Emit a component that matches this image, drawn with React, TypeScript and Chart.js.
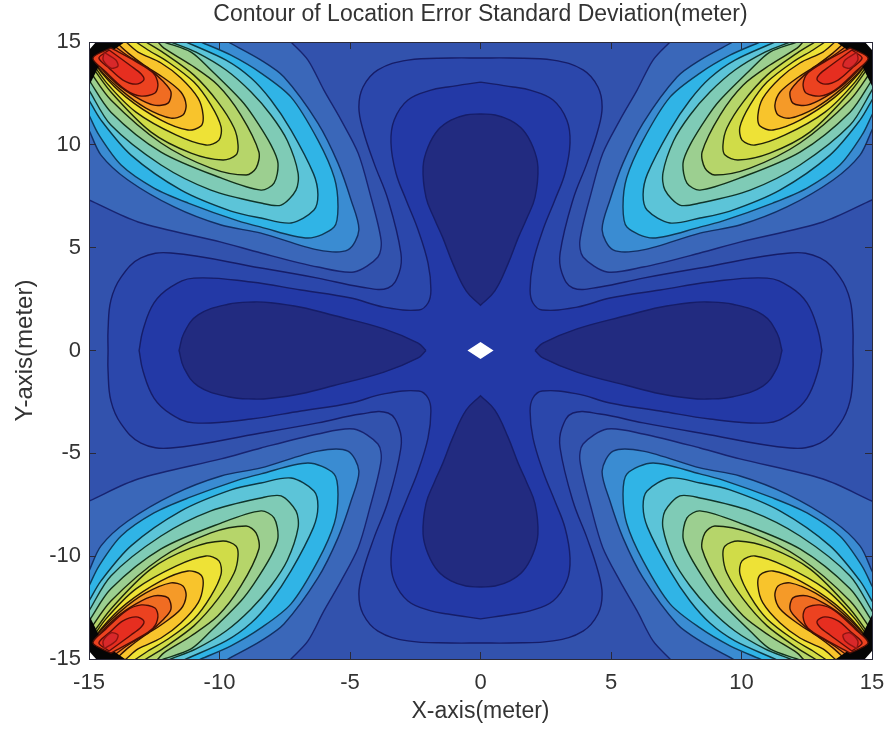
import React, { useEffect, useRef } from "react";
import { Chart, registerables } from "chart.js";

Chart.register(...registerables);

type Pt = [number, number];

const titleText = "Contour of Location Error Standard Deviation(meter)";
const xAxisLabel = "X-axis(meter)";
const yAxisLabel = "Y-axis(meter)";
const axisMin = -15;
const axisMax = 15;
const tickStep = 5;

// Contours read from the upper right quadrant (the surface is mirrored in x and y).
const petalVertical: Pt[] = [[0, 11.5], [0.56, 11.45], [1.13, 11.2], [1.63, 10.72], [2.01, 9.89], [2.2, 8.92], [2.09, 7.46], [1.78, 6.44], [1.45, 5.5], [1.05, 4.2], [0.55, 2.9], [0, 2.2]];
const petalHorizontal: Pt[] = [[2.09, 0], [2.39, 0.36], [3.7, 1.05], [5.61, 1.7], [6.88, 2.1], [8.03, 2.32], [8.68, 2.36], [9.67, 2.25], [10.82, 1.73], [11.36, 0.85], [11.55, 0]];
const crossInner: Pt[] = [[0, 13.05], [1.25, 12.81], [1.9, 12.66], [2.78, 12.18], [3.31, 11.2], [3.43, 10.09], [3.24, 8.63], [2.85, 7.32], [2.39, 5.86], [2.01, 4.25], [1.9, 2.94], [2.01, 2.31], [2.36, 1.97], [3.7, 2.11], [4.96, 2.55], [6.88, 2.94], [8.79, 3.33], [10.98, 3.52], [11.86, 3.09], [12.51, 2.31], [12.93, 1.0], [13.08, 0]];
const crossOuter: Pt[] = [[0, 14.22], [1.13, 14.22], [2.78, 14.12], [3.93, 13.64], [4.5, 12.81], [4.66, 11.84], [4.5, 10.72], [4.08, 9.11], [3.54, 7.32], [3.05, 4.74], [3.12, 3.77], [3.54, 3.04], [4.58, 3.09], [6.23, 3.52], [8.41, 4.01], [11.86, 4.74], [13.01, 4.5], [13.77, 3.57], [14.16, 2.45], [14.27, 1.0], [14.27, 0]];

const lobe3: Pt[] = [[7.26, 15], [6.61, 14.12], [6.0, 12.66], [5.34, 11.2], [4.69, 9.6], [4.27, 7.8], [3.81, 5.37], [3.93, 4.55], [4.85, 3.82], [6.23, 4.06], [8.41, 4.74], [9.94, 5.27], [13.12, 6.25], [15, 7.32]];
const lobe4: Pt[] = [[9.67, 15], [8.41, 14.12], [7.53, 13.3], [6.23, 11.06], [5.46, 9.11], [4.96, 7.32], [4.66, 5.86], [5.08, 4.89], [6.23, 4.89], [8.41, 5.71], [9.94, 6.1], [11.74, 6.98], [13.51, 8.29], [14.54, 9.5], [15, 10.72]];
const lobe5: Pt[] = [[10.71, 15], [9.56, 14.36], [8.41, 13.49], [7.26, 12.32], [6.23, 10.23], [5.6, 8.4], [5.46, 6.98], [5.61, 6.0], [6.61, 5.47], [8.41, 6.0], [9.29, 6.3], [11.2, 7.17], [12.51, 7.9], [13.77, 9.02], [14.62, 10.48], [15, 11.45]];
const lobe6: Pt[] = [[11.28, 15], [9.75, 14.12], [8.79, 13.25], [8.03, 12.18], [7.26, 10.72], [6.4, 8.6], [6.23, 7.6], [6.38, 6.83], [7.26, 6.2], [8.41, 6.44], [9.56, 6.78], [11.47, 7.8], [13.39, 9.5], [14.54, 11.2], [15, 12.18]];
const lobe7: Pt[] = [[11.86, 15], [10.9, 14.51], [9.75, 13.64], [8.79, 12.57], [8.03, 11.45], [7.4, 10.2], [6.99, 8.63], [7.07, 7.8], [7.64, 7.07], [8.41, 7.17], [10.33, 7.8], [12.24, 9.02], [14.16, 10.96], [15, 12.66]];
const lobe8: Pt[] = [[12.13, 15], [11.09, 14.51], [10.33, 13.64], [9.18, 12.18], [8.69, 11.36], [8.03, 10.0], [7.76, 9.11], [7.91, 8.14], [8.41, 7.8], [9.94, 8.39], [12.24, 9.65], [14.16, 11.59], [15, 13.15]];
const lobe9: Pt[] = [[12.36, 15], [12.13, 14.7], [11.09, 13.88], [10.06, 12.9], [9.18, 11.45], [8.49, 9.65], [8.6, 8.87], [8.98, 8.53], [10.33, 8.87], [12.24, 10.09], [14.16, 12.18], [15, 13.64]];
const lobe10: Pt[] = [[12.82, 15], [12.13, 14.46], [10.98, 13.39], [10.06, 12.08], [9.44, 10.82], [9.29, 9.99], [9.37, 9.5], [9.87, 9.26], [11.09, 9.6], [12.62, 10.62], [14.16, 12.57], [15, 14.03]];
const lobe11: Pt[] = [[13.2, 15], [12.74, 14.61], [11.97, 14.03], [10.98, 13.05], [10.33, 11.94], [9.94, 10.87], [10.02, 10.23], [10.52, 9.99], [11.67, 10.48], [13.2, 11.59], [14.35, 13.05], [15, 14.22]];
const lobe12: Pt[] = [[13.58, 15], [13.12, 14.51], [12.24, 13.98], [11.48, 13.25], [10.82, 12.27], [10.63, 11.45], [10.71, 10.91], [11.21, 10.72], [12.24, 11.2], [13.58, 12.32], [14.54, 13.54], [15, 14.46]];
const lobe13: Pt[] = [[13.97, 15], [13.5, 14.46], [12.89, 13.88], [12.13, 13.25], [11.48, 12.57], [11.28, 11.93], [11.4, 11.45], [11.86, 11.3], [12.82, 11.79], [13.77, 12.66], [14.62, 13.73], [15, 14.66]];
const lobe14: Pt[] = [[14.23, 15], [13.5, 14.32], [12.74, 13.73], [12.13, 13.05], [11.86, 12.57], [11.97, 12.03], [12.51, 11.93], [13.2, 12.32], [13.97, 13.0], [14.73, 14.03], [15, 14.8]];
const cornerDense: Pt[] = [[13.62, 15], [14.08, 14.6], [14.54, 14.5], [14.62, 13.83], [15, 12.86], [15, 15]];
const lobe15: Pt[] = [[14.16, 14.71], [13.2, 14.05], [12.55, 13.5], [12.36, 12.95], [12.47, 12.52], [13.0, 12.37], [13.58, 12.66], [14.35, 13.54], [14.85, 14.22]];
const lobe16: Pt[] = [[14.23, 14.61], [13.39, 13.83], [13.0, 13.44], [12.9, 13.15], [13.2, 12.95], [13.7, 13.15], [14.23, 13.73], [14.62, 14.22]];
const lobePeak: Pt[] = [[14.42, 14.5], [13.97, 14.12], [13.89, 13.83], [14.16, 13.73], [14.46, 14.12]];
const cornerGap: Pt[] = [[14.73, 15], [15, 15], [15, 14.61]];
const centerHole: Pt[] = [[-0.5, 0], [0, 0.41], [0.5, 0], [0, -0.41]];
const plotRect: Pt[] = [[-15, -15], [-15, 15], [15, 15], [15, -15]];
const outsideCorner: Pt = [17, 17];

const COL_BASE = "#3252ad";
const COL_CROSS_OUT = "#2b47ab";
const COL_CROSS_IN = "#2339a6";
const COL_PETAL = "#222b80";
const LINE_LOW = "#161d68";

// [contour, fill, line]; drawn from the first to the last.
const lobeLevels: [Pt[], string, string][] = [
  [lobe3, "#3a67b9", "#182470"],
  [lobe4, "#3a8cd2", "#122f64"],
  [lobe5, "#30b4e6", "#0f3a58"],
  [lobe6, "#5cc4d8", "#0d3844"],
  [lobe7, "#7fcbb6", "#10352b"],
  [lobe8, "#9ccf90", "#12311a"],
  [lobe9, "#b6d56a", "#18280e"],
  [lobe10, "#d0dc48", "#1c260a"],
  [lobe11, "#eee236", "#222208"],
  [lobe12, "#f8c42c", "#2a1a06"],
  [lobe13, "#f59a28", "#301405"],
  [lobe14, "#f06c22", "#381005"],
];

function flip(pts: Pt[], sx: number, sy: number): Pt[] {
  return pts.map(([x, y]) => [x * sx, y * sy] as Pt);
}

function poly(pts: Pt[], fill: string, line: string | null, tension = 0.4) {
  return {
    data: pts.map(([x, y]) => ({ x, y })),
    showLine: true,
    fill: "shape",
    backgroundColor: fill,
    borderColor: line ?? fill,
    borderWidth: line ? 1.4 : 0,
    pointRadius: 0,
    tension,
    capBezierPoints: false,
  };
}

function crossPolygon(q: Pt[]): Pt[] {
  const rev = [...q].reverse();
  return [...q, ...flip(rev, 1, -1), ...flip(q, -1, -1), ...flip(rev, -1, 1), q[0]];
}

// Carries a contour past the frame, so that its closing run stays outside the plot.
function beyond(p: Pt, prev: Pt): Pt {
  return [p[0] + (p[0] - prev[0]) * 0.4, p[1] + (p[1] - prev[1]) * 0.4];
}

const quadrants: [number, number][] = [[1, 1], [-1, 1], [-1, -1], [1, -1]];

function buildDatasets() {
  const out: any[] = [poly(plotRect, COL_BASE, null, 0)];
  out.push(poly(crossPolygon(crossOuter), COL_CROSS_OUT, LINE_LOW));
  out.push(poly(crossPolygon(crossInner), COL_CROSS_IN, LINE_LOW));
  const vPetal: Pt[] = [...petalVertical, ...flip([...petalVertical].reverse(), -1, 1)];
  const hPetal: Pt[] = [...petalHorizontal, ...flip([...petalHorizontal].reverse(), 1, -1)];
  [1, -1].forEach((s) => {
    out.push(poly([...flip(vPetal, 1, s), flip(vPetal, 1, s)[0]], COL_PETAL, LINE_LOW));
    out.push(poly([...flip(hPetal, s, 1), flip(hPetal, s, 1)[0]], COL_PETAL, LINE_LOW));
  });
  quadrants.forEach(([sx, sy]) => {
    lobeLevels.forEach(([c, f, l]) => {
      const n = c.length;
      const a = beyond(c[0], c[1]);
      const b = beyond(c[n - 1], c[n - 2]);
      const pts = flip([a, ...c, b, outsideCorner, a], sx, sy);
      out.push(poly(pts, f, l, 0.3));
    });
    const closed = (c: Pt[]) => flip([...c, c[0]], sx, sy);
    out.push(poly(closed(cornerDense), "#050505", null, 0));
    out.push(poly(closed(lobe15), "#ec4220", "#4a0f06", 0.3));
    out.push(poly(closed(lobe16), "#e62e20", "#5a0d08", 0.3));
    out.push(poly(closed(lobePeak), "#d8282a", "#8a1512", 0.3));
    out.push(poly(closed(cornerGap), "#ffffff", null, 0));
  });
  out.push(poly([...centerHole, centerHole[0]], "#ffffff", null, 0));
  return out.reverse();
}

const FONT = "'Liberation Sans', Arial, sans-serif";
const TEXT = "#333333";
const FRAME = "#2a2a3a";

export default function App() {
  const ref = useRef<HTMLCanvasElement>(null);
  useEffect(() => {
    document.body.style.margin = "0";
    const tick = { min: axisMin, max: axisMax };
    const gridInward = { drawOnChartArea: false, drawTicks: true, tickLength: -7, color: FRAME, z: 1 };
    const border = { display: true, color: FRAME, width: 1, z: 2 };
    const noOverhang = (s: any) => {
      s.paddingLeft = 0;
      s.paddingRight = 0;
      s.paddingTop = 0;
      s.paddingBottom = 0;
    };
    const chart = new Chart(ref.current as HTMLCanvasElement, {
      type: "scatter",
      data: { datasets: buildDatasets() },
      options: {
        responsive: false,
        animation: false,
        layout: { padding: 0 },
        plugins: {
          legend: { display: false },
          tooltip: { enabled: false },
          title: {
            display: true,
            text: titleText,
            color: TEXT,
            fullSize: false,
            font: { family: FONT, size: 23, weight: "normal", lineHeight: 1.2 },
            padding: { top: 1, bottom: 13.4 },
          },
        },
        scales: {
          x: {
            type: "linear",
            position: "bottom",
            ...tick,
            grid: gridInward,
            border,
            ticks: { stepSize: tickStep, color: TEXT, font: { family: FONT, size: 22 }, padding: 18, maxRotation: 0, z: 3 },
            title: { display: true, text: xAxisLabel, color: TEXT, font: { family: FONT, size: 23 }, padding: { top: 0, bottom: 5 } },
            afterFit: (s: any) => { s.height = 71; noOverhang(s); },
          },
          y: {
            type: "linear",
            position: "left",
            ...tick,
            grid: gridInward,
            border,
            ticks: { stepSize: tickStep, color: TEXT, font: { family: FONT, size: 22 }, padding: 15, z: 3 },
            title: { display: true, text: yAxisLabel, color: TEXT, font: { family: FONT, size: 24 }, padding: { top: 11, bottom: 0 } },
            afterFit: (s: any) => { s.width = 89; noOverhang(s); },
          },
          xTop: {
            type: "linear",
            position: "top",
            ...tick,
            grid: gridInward,
            border,
            ticks: { stepSize: tickStep, display: false },
            afterFit: (s: any) => { s.height = 0; noOverhang(s); },
          },
          yRight: {
            type: "linear",
            position: "right",
            ...tick,
            grid: gridInward,
            border,
            ticks: { stepSize: tickStep, display: false },
            afterFit: (s: any) => { s.width = 14; noOverhang(s); },
          },
        },
      } as any,
    });
    return () => chart.destroy();
  }, []);
  return (
    <div style={{ position: "absolute", left: 0, top: 0, width: 886, height: 730, background: "#fff" }}>
      <canvas ref={ref} width={886} height={730} style={{ display: "block", filter: "blur(0.5px)" }} />
    </div>
  );
}
